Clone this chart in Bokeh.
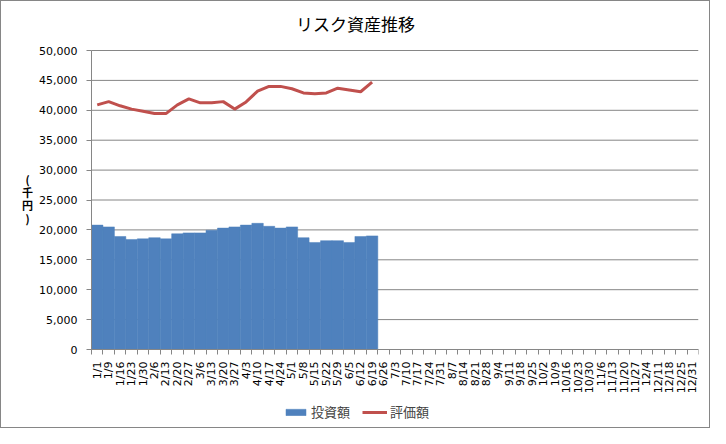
import numpy as np
from bokeh.plotting import figure
from bokeh.models import (Range1d, FixedTicker, NumeralTickFormatter, Legend, LegendItem, Label)
from bokeh.embed import file_html
from bokeh.resources import INLINE

dates = ["1/1", "1/9", "1/16", "1/23", "1/30", "2/6", "2/13", "2/20", "2/27", "3/6", "3/13", "3/20",
         "3/27", "4/3", "4/10", "4/17", "4/24", "5/1", "5/8", "5/15", "5/22", "5/29", "6/5", "6/12",
         "6/19", "6/26", "7/3", "7/10", "7/17", "7/24", "7/31", "8/7", "8/14", "8/21", "8/28", "9/4",
         "9/11", "9/18", "9/25", "10/2", "10/9", "10/16", "10/23", "10/30", "11/6", "11/13", "11/20",
         "11/27", "12/4", "12/11", "12/18", "12/25", "12/31"]

invest = [20800, 20500, 18900, 18400, 18500, 18700, 18500, 19350, 19500, 19500, 19950, 20300,
          20500, 20800, 21100, 20600, 20300, 20500, 18700, 17900, 18200, 18200, 17900, 18900, 19000]

valuation = [40900, 41450, 40750, 40200, 39850, 39450, 39450, 40900, 41900, 41250, 41250, 41450,
             40200, 41400, 43200, 44000, 44000, 43600, 42900, 42750, 42900, 43700, 43400, 43100, 44700]

y_ticks = [0, 5000, 10000, 15000, 20000, 25000, 30000, 35000, 40000, 45000, 50000]

title_text = "リスク資産推移"
y_label_chars = ["(", "千", "円", ")"]
series_names = ["投資額", "評価額"]

n = len(dates)
centers = np.arange(n) + 0.5
xb = centers[:len(invest)]
xl = centers[:len(valuation)]

GRID = "#868686"
BAR = "#4F81BD"
LINE = "#C0504D"

# layout (pixels within the figure)
W, H = 710, 428
F_LEFT, F_RIGHT, F_TOP, F_BOTTOM = 2, 697, 2, 426   # frame (covers almost whole figure)
AX_PX = 90                                          # where the y axis sits
Y0_PX, Y50_PX = 348, 49                             # where 0 and 50,000 sit
YMAX = y_ticks[-1]
upp = YMAX / (Y0_PX - Y50_PX)                       # data units per pixel (y)
xupp = n / (F_RIGHT - AX_PX)                        # data units per pixel (x)
y_lo = -(F_BOTTOM - Y0_PX) * upp
y_hi = YMAX + (Y50_PX - F_TOP) * upp
x_lo = -(AX_PX - F_LEFT) * xupp


def sx(px):
    return (px - AX_PX) * xupp


def sy(py):
    return (Y0_PX - py) * upp


p = figure(width=W, height=H, output_backend="svg", toolbar_location=None,
           x_range=Range1d(x_lo, n), y_range=Range1d(y_lo, y_hi),
           min_border_left=F_LEFT, min_border_right=W - F_RIGHT,
           min_border_top=F_TOP, min_border_bottom=H - F_BOTTOM)
p.styles = {"border": "1px solid #868686"}
p.outline_line_color = None
p.background_fill_color = "white"
p.border_fill_color = "white"

# horizontal gridlines at the y ticks, from the y axis to the right edge
p.xgrid.visible = False
p.ygrid.visible = False
p.segment(x0=0, x1=n, y0=y_ticks, y1=y_ticks, line_color=GRID, line_width=1)

bars = p.vbar(x=xb, top=invest, width=1.0, bottom=0, fill_color=BAR, line_color=BAR, line_width=0.5)
ln = p.line(x=xl, y=valuation, line_color=LINE, line_width=3)

# title
p.add_layout(Label(x=sx(354), y=sy(22), text=title_text,
                   text_font="Noto Sans CJK JP", text_font_size="17px", text_color="black",
                   text_align="center", text_baseline="middle"))

# y axis label, written vertically (one character per line)
label_py = [177, 190, 203, 216]
for ch, py in zip(y_label_chars, label_py):
    p.add_layout(Label(x=sx(26), y=sy(py), text=ch,
                       text_font="Noto Sans CJK JP", text_font_size="11px", text_font_style="bold",
                       text_color="black", text_align="center", text_baseline="middle"))

# y axis
p.yaxis.fixed_location = 0
p.yaxis.bounds = (0, YMAX)
p.yaxis.ticker = FixedTicker(ticks=y_ticks)
p.yaxis.formatter = NumeralTickFormatter(format="0,0")
p.yaxis.minor_tick_line_color = None
p.yaxis.major_tick_out = 5
p.yaxis.major_tick_in = 0
p.yaxis.axis_line_color = GRID
p.yaxis.major_tick_line_color = GRID
p.yaxis.major_label_text_font = "DejaVu Sans"
p.yaxis.major_label_text_font_size = "11px"
p.yaxis.major_label_text_color = "black"
p.yaxis.major_label_standoff = 9

# x axis
p.xaxis.fixed_location = 0
p.xaxis.bounds = (0, n)
p.xaxis.ticker = FixedTicker(ticks=list(centers), minor_ticks=list(range(n + 1)))
p.xaxis.major_label_overrides = {float(c): d for c, d in zip(centers, dates)}
p.xaxis.major_label_orientation = np.pi / 2
p.xaxis.major_tick_out = 0
p.xaxis.major_tick_in = 0
p.xaxis.minor_tick_out = 5
p.xaxis.minor_tick_in = 0
p.xaxis.minor_tick_line_color = GRID
p.xaxis.axis_line_color = GRID
p.xaxis.major_label_text_font = "DejaVu Sans"
p.xaxis.major_label_text_font_size = "11px"
p.xaxis.major_label_text_color = "black"
p.xaxis.major_label_standoff = 7

legend = Legend(items=[LegendItem(label=series_names[0], renderers=[bars]),
                       LegendItem(label=series_names[1], renderers=[ln])],
                orientation="horizontal", location=(280, 6),
                label_text_font="Noto Sans CJK JP", label_text_font_size="13px",
                glyph_width=25, glyph_height=8, spacing=12, label_standoff=3,
                border_line_color=None, background_fill_alpha=0, margin=0, padding=2)
p.add_layout(legend)

open("out.html", "w").write(file_html(p, INLINE))
